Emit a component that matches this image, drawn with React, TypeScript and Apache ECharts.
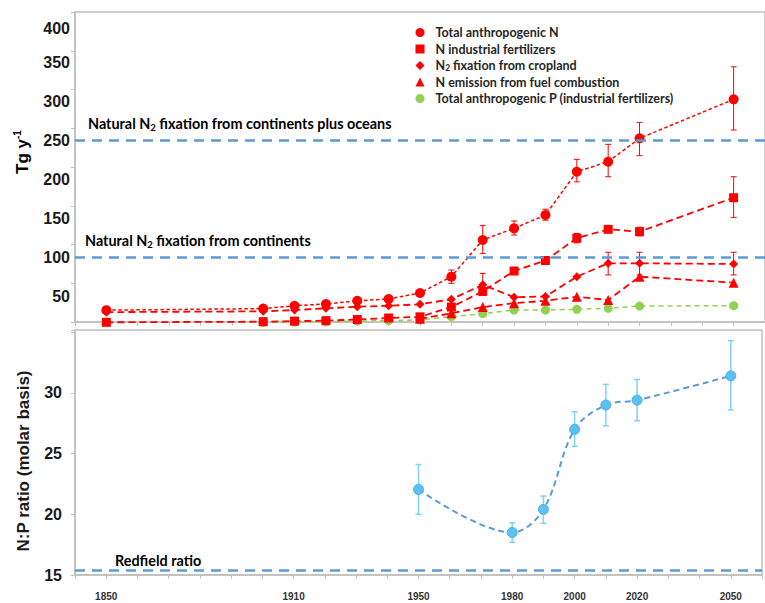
import React, { useEffect, useRef } from 'react';
import * as echarts from 'echarts';

// ---- Data (top panel, Tg per year) ----
const years = [1850, 1900, 1910, 1920, 1930, 1940, 1950, 1960, 1970, 1980, 1990, 2000, 2010, 2020, 2050];
const totalN = [33, 35, 38.7, 40.9, 45, 47.3, 55, 75.8, 122.7, 137.6, 154.6, 209.9, 222.7, 252.6, 302.4];
const fertN = [17.5, 18.3, 19, 19.6, 21, 23, 24.5, 37, 57, 83, 96.5, 125, 136.3, 133.3, 176.7];
const cropN = [30.5, 31.5, 33.2, 35.4, 37.4, 38.7, 40.5, 46.9, 65.5, 49.5, 50.5, 75.8, 92.9, 92.9, 92];
const fuelYears = [1950, 1960, 1970, 1980, 1990, 2000, 2010, 2020, 2050];
const fuelN = [22, 29, 37, 42, 45, 50.2, 46, 75.8, 68.1];
const pYears = [1900, 1910, 1920, 1930, 1940, 1950, 1960, 1970, 1980, 1990, 2000, 2010, 2020, 2050];
const totalP = [17, 17.5, 18, 19, 19.6, 20.6, 24.7, 28.5, 33.2, 33.2, 34.1, 35.4, 38.3, 38.7];

const totalNErrYears = [1960, 1970, 1980, 1990, 2000, 2010, 2020, 2050];
const totalNErrLow = [67.3, 105.6, 129, 148, 197, 203.5, 230.4, 263.2];
const totalNErrHigh = [84.3, 141, 147, 162, 225.7, 244.9, 273, 344];
const fertNErrYears = [2000, 2020, 2050];
const fertNErrLow = [119, 128, 151.6];
const fertNErrHigh = [131, 139, 203.5];
const cropNErrYears = [1970, 2010, 2020, 2050];
const cropNErrLow = [52, 78, 78, 78];
const cropNErrHigh = [80, 107, 107, 107];

const naturalContinentsOceans = 250;
const naturalContinents = 100;

// ---- Data (bottom panel, N:P molar ratio) ----
const ratioYears = [1950, 1980, 1990, 2000, 2010, 2020, 2050];
const npRatio = [22.05, 18.5, 20.4, 27.0, 29.0, 29.4, 31.4];
const npErrLow = [20.0, 17.7, 19.25, 25.6, 27.3, 27.7, 28.6];
const npErrHigh = [24.1, 19.3, 21.5, 28.45, 30.7, 31.1, 34.3];
const redfield = 15.4;

const xLabelYears = [1850, 1910, 1950, 1980, 2000, 2020, 2050];

const RED = '#ff0000';
const BLUE_LINE = '#5b9bd5';
const AX = '#bfbfbf';
const ANN_FONT = 'Lato, "Open Sans", sans-serif';
const AX_FONT = '"Liberation Sans", Arial, sans-serif';

const zip = (xs: number[], ys: number[]) => xs.map((x, i) => [x, ys[i]]);
const zip3 = (xs: number[], lo: number[], hi: number[]) => xs.map((x, i) => [x, lo[i], hi[i]]);

const errRender = (color: string, cap: number, width: number) => (params: any, api: any) => {
  const x = api.value(0);
  const lo = api.coord([x, api.value(1)]);
  const hi = api.coord([x, api.value(2)]);
  const style = { stroke: color, lineWidth: width };
  return {
    type: 'group',
    children: [
      { type: 'line', shape: { x1: lo[0], y1: lo[1], x2: hi[0], y2: hi[1] }, style },
      { type: 'line', shape: { x1: lo[0] - cap, y1: lo[1], x2: lo[0] + cap, y2: lo[1] }, style },
      { type: 'line', shape: { x1: hi[0] - cap, y1: hi[1], x2: hi[0] + cap, y2: hi[1] }, style },
    ],
  };
};

const annRich = {
  a: { fontFamily: ANN_FONT, fontWeight: 'bold', fontSize: 14.4, color: '#333333', lineHeight: 18 },
  s: { fontFamily: ANN_FONT, fontWeight: 'bold', fontSize: 9.5, color: '#333333', lineHeight: 9, verticalAlign: 'bottom' },
};

const yLabelRich = {
  n: { fontFamily: AX_FONT, fontWeight: 'bold', fontSize: 16, color: '#1a1a1a' },
  lo: { fontFamily: AX_FONT, fontWeight: 'bold', fontSize: 16, color: '#1a1a1a', padding: [11, 0, 0, 0] },
};

export default function App() {
  const ref = useRef<HTMLDivElement>(null);
  useEffect(() => {
    if (!ref.current) return;
    const chart = echarts.init(ref.current, null, { renderer: 'svg' });
    const xBase = { type: 'value', min: 1840, max: 2060, interval: 10, splitLine: { show: false } };
    const option: any = {
      animation: false,
      backgroundColor: '#ffffff',
      textStyle: { fontFamily: AX_FONT },
      grid: [
        { left: 75, top: 12, width: 691, height: 324 },
        { left: 75, top: 12, width: 691, height: 310, show: true, borderColor: AX, borderWidth: 1.5, backgroundColor: 'transparent' },
        { left: 75, top: 330, width: 691, height: 245, show: true, borderColor: AX, borderWidth: 1.5, backgroundColor: 'transparent' },
      ],
      xAxis: [
        { ...xBase, gridIndex: 0, show: false },
        {
          ...xBase, gridIndex: 1,
          axisLine: { lineStyle: { color: AX, width: 1.5 } },
          axisTick: { length: 4, lineStyle: { color: AX, width: 1 } },
          axisLabel: { show: false },
        },
        {
          ...xBase, gridIndex: 2,
          axisLine: { lineStyle: { color: AX, width: 1.5 } },
          axisTick: { length: 4, lineStyle: { color: AX, width: 1 } },
          axisLabel: {
            margin: 16, fontSize: 10, fontWeight: 'bold', color: '#333333', fontFamily: AX_FONT,
            formatter: (v: number) => (xLabelYears.indexOf(v) >= 0 ? String(v) : ''),
          },
        },
      ],
      yAxis: [
        {
          type: 'value', gridIndex: 0, min: 0, max: 414, interval: 50,
          axisLine: { show: false }, axisTick: { show: false }, splitLine: { show: false },
          axisLabel: {
            margin: 5, rich: yLabelRich,
            formatter: (v: number) => (v > 0 && v < 400 ? '{n|' + v + '}' : v === 400 ? '{lo|400}' : ''),
          },
        },
        {
          type: 'value', gridIndex: 1, min: 0, max: 400, interval: 50,
          axisLine: { show: true, lineStyle: { color: AX, width: 1.5 } },
          axisTick: { show: true, length: 4, lineStyle: { color: AX, width: 1 } },
          axisLabel: { show: false }, splitLine: { show: false },
        },
        {
          type: 'value', gridIndex: 2, min: 15, max: 35.18, interval: 5,
          axisLine: { show: true, lineStyle: { color: AX, width: 1.5 } },
          axisTick: { show: true, length: 4, lineStyle: { color: AX, width: 1 } },
          splitLine: { show: false },
          axisLabel: {
            margin: 13, fontSize: 16, fontWeight: 'bold', color: '#1a1a1a', fontFamily: AX_FONT,
            formatter: (v: number) => (v < 35 ? String(v) : ''),
          },
        },
      ],
      legend: {
        orient: 'vertical', left: 415.5, top: 26, padding: 0, itemWidth: 9, itemHeight: 9, itemGap: 3.5,
        selectedMode: false,
        data: [
          { name: 'Total anthropogenic N', icon: 'circle' },
          { name: 'N industrial fertilizers', icon: 'rect' },
          { name: 'N2 fixation from cropland', icon: 'diamond' },
          { name: 'N emission from fuel combustion', icon: 'triangle' },
          { name: 'Total anthropogenic P (industrial fertilizers)', icon: 'circle' },
        ],
        formatter: (name: string) =>
          name.indexOf('N2 ') === 0 ? '{f|N}{s|2}{a|' + name.slice(2) + '}' : '{f|' + name + '}',
        textStyle: {
          rich: {
            f: { fontFamily: ANN_FONT, fontWeight: 'bold', fontSize: 12.5, color: '#262626', padding: [0, 0, 0, 6] },
            a: { fontFamily: ANN_FONT, fontWeight: 'bold', fontSize: 12.5, color: '#262626' },
            s: { fontFamily: ANN_FONT, fontWeight: 'bold', fontSize: 8.5, color: '#262626', lineHeight: 8, verticalAlign: 'bottom' },
          },
        },
      },
      graphic: [
        {
          type: 'text', x: 22, y: 152, rotation: Math.PI / 2,
          style: {
            text: '{b|Tg y}{p|-1}', textAlign: 'center', textVerticalAlign: 'middle', align: 'center', verticalAlign: 'middle',
            rich: {
              b: { fontFamily: AX_FONT, fontWeight: 'bold', fontSize: 17, color: '#1a1a1a', lineHeight: 20 },
              p: { fontFamily: AX_FONT, fontWeight: 'bold', fontSize: 10, color: '#1a1a1a', lineHeight: 10, verticalAlign: 'top' },
            },
          },
        },
        {
          type: 'text', x: 23, y: 461, rotation: Math.PI / 2,
          style: {
            text: 'N:P ratio (molar basis)', textAlign: 'center', textVerticalAlign: 'middle', align: 'center', verticalAlign: 'middle',
            font: 'bold 17px "Liberation Sans", Arial, sans-serif', fill: '#1a1a1a',
          },
        },
        {
          type: 'text', x: 88, y: 123,
          style: {
            text: '{a|Natural N}{s|2}{a| fixation from continents plus oceans}',
            textAlign: 'left', textVerticalAlign: 'middle', align: 'left', verticalAlign: 'middle', rich: annRich,
          },
        },
        {
          type: 'text', x: 85, y: 240,
          style: {
            text: '{a|Natural N}{s|2}{a| fixation from continents}',
            textAlign: 'left', textVerticalAlign: 'middle', align: 'left', verticalAlign: 'middle', rich: annRich,
          },
        },
        {
          type: 'text', x: 115, y: 560,
          style: {
            text: '{a|Redfield ratio}',
            textAlign: 'left', textVerticalAlign: 'middle', align: 'left', verticalAlign: 'middle', rich: annRich,
          },
        },
      ],
      series: [
        {
          type: 'line', name: 'refTop', xAxisIndex: 0, yAxisIndex: 0, data: [], z: 0,
          markLine: {
            silent: true, symbol: ['none', 'none'], label: { show: false },
            lineStyle: { color: BLUE_LINE, width: 2.5, type: [10, 7] },
            data: [{ yAxis: naturalContinentsOceans }, { yAxis: naturalContinents }],
          },
        },
        {
          type: 'custom', name: 'errTotalN', xAxisIndex: 0, yAxisIndex: 0, z: 1,
          renderItem: errRender(RED, 3, 1), encode: { x: 0, y: [1, 2] },
          data: zip3(totalNErrYears, totalNErrLow, totalNErrHigh),
        },
        {
          type: 'custom', name: 'errFertN', xAxisIndex: 0, yAxisIndex: 0, z: 1,
          renderItem: errRender(RED, 3, 1), encode: { x: 0, y: [1, 2] },
          data: zip3(fertNErrYears, fertNErrLow, fertNErrHigh),
        },
        {
          type: 'custom', name: 'errCropN', xAxisIndex: 0, yAxisIndex: 0, z: 1,
          renderItem: errRender(RED, 3, 1), encode: { x: 0, y: [1, 2] },
          data: zip3(cropNErrYears, cropNErrLow, cropNErrHigh),
        },
        {
          type: 'line', name: 'Total anthropogenic P (industrial fertilizers)', xAxisIndex: 0, yAxisIndex: 0, z: 2,
          data: zip(pYears, totalP), symbol: 'circle', symbolSize: 9,
          itemStyle: { color: '#92d050', borderWidth: 0 },
          lineStyle: { color: '#92d050', width: 1.5, type: [5, 4] },
        },
        {
          type: 'line', name: 'N emission from fuel combustion', xAxisIndex: 0, yAxisIndex: 0, z: 3,
          data: zip(fuelYears, fuelN), symbol: 'triangle', symbolSize: 10,
          itemStyle: { color: RED, borderWidth: 0 },
          lineStyle: { color: RED, width: 1.8, type: [7, 4] },
        },
        {
          type: 'line', name: 'N2 fixation from cropland', xAxisIndex: 0, yAxisIndex: 0, z: 3,
          data: zip(years, cropN), symbol: 'diamond', symbolSize: 9,
          itemStyle: { color: RED, borderWidth: 0 },
          lineStyle: { color: RED, width: 1.8, type: [7, 4] },
        },
        {
          type: 'line', name: 'N industrial fertilizers', xAxisIndex: 0, yAxisIndex: 0, z: 3,
          data: zip(years, fertN), symbol: 'rect', symbolSize: 9,
          itemStyle: { color: RED, borderWidth: 0 },
          lineStyle: { color: RED, width: 1.8, type: [7, 4] },
        },
        {
          type: 'line', name: 'Total anthropogenic N', xAxisIndex: 0, yAxisIndex: 0, z: 3,
          data: zip(years, totalN), symbol: 'circle', symbolSize: 10,
          itemStyle: { color: RED, borderWidth: 0 },
          lineStyle: { color: RED, width: 1.5, type: [3.5, 2.5] },
        },
        {
          type: 'line', name: 'refBottom', xAxisIndex: 2, yAxisIndex: 2, data: [], z: 0,
          markLine: {
            silent: true, symbol: ['none', 'none'], label: { show: false },
            lineStyle: { color: BLUE_LINE, width: 2.5, type: [10, 7] },
            data: [{ yAxis: redfield }],
          },
        },
        {
          type: 'custom', name: 'errRatio', xAxisIndex: 2, yAxisIndex: 2, z: 1,
          renderItem: errRender('#7fd3f7', 3, 1.5), encode: { x: 0, y: [1, 2] },
          data: zip3(ratioYears, npErrLow, npErrHigh),
        },
        {
          type: 'line', name: 'N:P ratio', xAxisIndex: 2, yAxisIndex: 2, z: 3,
          data: zip(ratioYears, npRatio), symbol: 'circle', symbolSize: 10, smooth: 0.35,
          itemStyle: { color: '#5cc0f2', borderColor: '#4aaee6', borderWidth: 1 },
          lineStyle: { color: BLUE_LINE, width: 2, type: [6, 4] },
        },
      ],
    };
    chart.setOption(option);
    return () => chart.dispose();
  }, []);
  return (
    <div
      ref={ref}
      style={{ position: 'absolute', left: 0, top: 0, width: 765, height: 603, background: '#fff' }}
    />
  );
}
